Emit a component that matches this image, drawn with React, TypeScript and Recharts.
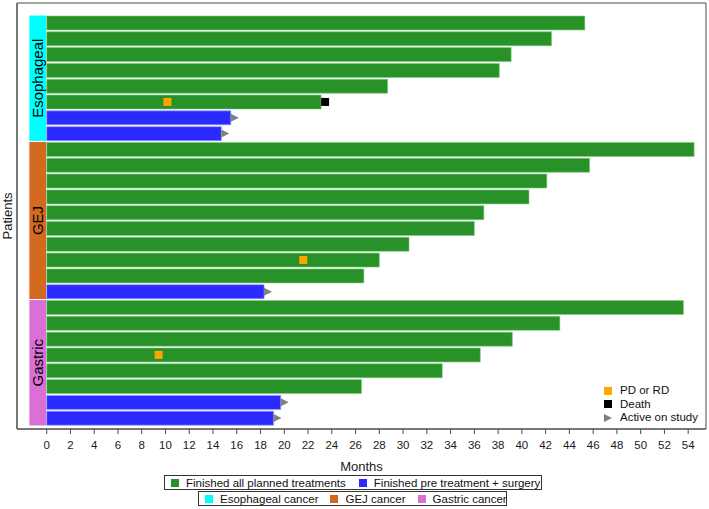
import {
  ComposedChart, Bar, Cell, Scatter, XAxis, YAxis, ReferenceArea, CartesianGrid,
} from 'recharts';

const FONT = '"Liberation Sans", Arial, sans-serif';
const GREEN = '#289228';
const BLUE = '#2b2bff';
const FRAME = '#4a4a4a';

// patients top to bottom
const patients = [
  'E1', 'E2', 'E3', 'E4', 'E5', 'E6', 'E7', 'E8',
  'J1', 'J2', 'J3', 'J4', 'J5', 'J6', 'J7', 'J8', 'J9', 'J10',
  'G1', 'G2', 'G3', 'G4', 'G5', 'G6', 'G7', 'G8',
];
const months = [
  45.3, 42.5, 39.1, 38.1, 28.7, 23.1, 15.5, 14.7,
  54.5, 45.7, 42.1, 40.6, 36.8, 36.0, 30.5, 28.0, 26.7, 18.3,
  53.6, 43.2, 39.2, 36.5, 33.3, 26.5, 19.7, 19.1,
];
// 'all' = finished all planned treatments, 'pre' = finished pre treatment + surgery
const status = [
  'all', 'all', 'all', 'all', 'all', 'all', 'pre', 'pre',
  'all', 'all', 'all', 'all', 'all', 'all', 'all', 'all', 'all', 'pre',
  'all', 'all', 'all', 'all', 'all', 'all', 'pre', 'pre',
];

const pdPatients = ['E6', 'J8', 'G4'];
const pdMonths = [10.16, 21.6, 9.42];
const deathPatients = ['E6'];
const deathMonths = [23.1];
const activePatients = ['E7', 'E8', 'J10', 'G7', 'G8'];
const activeMonths = [15.5, 14.7, 18.3, 19.7, 19.1];

const groupNames = ['Esophageal', 'GEJ', 'Gastric'];
const groupFirst = ['E1', 'J1', 'G1'];
const groupLast = ['E8', 'J10', 'G8'];
const groupColors = ['#00ffff', '#d2691e', '#da70d6'];

const xTicks = [0, 2, 4, 6, 8, 10, 12, 14, 16, 18, 20, 22, 24, 26, 28, 30, 32, 34, 36, 38, 40, 42, 44, 46, 48, 50, 52, 54];

const data = patients.map((id, i) => ({ id, months: months[i], status: status[i] }));
const pdData = pdPatients.map((id, i) => ({ id, month: pdMonths[i] }));
const deathData = deathPatients.map((id, i) => ({ id, month: deathMonths[i] }));
const activeData = activePatients.map((id, i) => ({ id, month: activeMonths[i] }));

// eslint-disable-next-line @typescript-eslint/no-explicit-any
const PdShape = ({ cx, cy }: any) => <rect x={cx - 4} y={cy - 4} width={8} height={8} fill="#ffa500" />;
// eslint-disable-next-line @typescript-eslint/no-explicit-any
const DeathShape = ({ cx, cy }: any) => <rect x={cx} y={cy - 4} width={8} height={8} fill="#000" />;
// eslint-disable-next-line @typescript-eslint/no-explicit-any
const ActiveShape = ({ cx, cy }: any) => (
  <polygon points={`${cx},${cy - 4} ${cx + 8},${cy} ${cx},${cy + 4}`} fill="#808080" />
);

// frame lines along the edges of the plot area
// eslint-disable-next-line @typescript-eslint/no-explicit-any
const frameRows = ({ offset }: any) => [offset.top, offset.top + offset.height];
// eslint-disable-next-line @typescript-eslint/no-explicit-any
const frameCols = ({ offset }: any) => [offset.left, offset.left + offset.width];

function Swatch({ color, tri }: { color: string; tri?: boolean }) {
  if (tri) {
    return (
      <svg width={8} height={8} style={{ display: 'block' }}>
        <polygon points="0,0 8,4 0,8" fill={color} />
      </svg>
    );
  }
  return <span style={{ display: 'block', width: 8, height: 8, background: color }} />;
}

function LegendItem({ color, label, gap = 0 }: { color: string; label: string; gap?: number }) {
  return (
    <span style={{ display: 'flex', alignItems: 'center', marginLeft: gap, whiteSpace: 'nowrap' }}>
      <Swatch color={color} />
      <span style={{ marginLeft: 7 }}>{label}</span>
    </span>
  );
}

const boxStyle: React.CSSProperties = {
  position: 'absolute',
  border: '1px solid #333',
  display: 'flex',
  alignItems: 'center',
  boxSizing: 'border-box',
  paddingLeft: 6,
  fontSize: 11.5,
  color: '#111',
  background: '#fff',
  whiteSpace: 'nowrap',
};

export default function App() {
  return (
    <div style={{ position: 'relative', width: 709, height: 509, fontFamily: FONT, background: '#fff' }}>
      <style>{'body{margin:0}'}</style>
      <ComposedChart
        width={709}
        height={509}
        data={data}
        layout="vertical"
        margin={{ top: 3, right: 3, left: 0, bottom: 35 }}
        barCategoryGap={1}
        style={{ fontFamily: FONT }}
      >
        <CartesianGrid
          stroke={FRAME}
          strokeWidth={1}
          horizontalCoordinatesGenerator={frameRows}
          verticalCoordinatesGenerator={frameCols}
        />
        <XAxis
          type="number"
          domain={[-2.5, 55.5]}
          ticks={xTicks}
          interval={0}
          allowDataOverflow
          height={45}
          tickSize={5}
          tickMargin={7}
          stroke={FRAME}
          tick={{ fill: '#1a1a1a', fontSize: 11.5 }}
          label={{ value: 'Months', position: 'insideBottom', offset: 3, fill: '#1a1a1a', fontSize: 13 }}
        />
        <YAxis
          type="category"
          dataKey="id"
          allowDuplicatedCategory={false}
          width={17}
          tick={false}
          tickLine={false}
          stroke={FRAME}
          padding={{ top: 12, bottom: 3 }}
          label={{ value: 'Patients', angle: -90, position: 'center', dx: -1, fill: '#1a1a1a', fontSize: 13 }}
        />
        {groupNames.map((g, i) => (
          <ReferenceArea
            key={g}
            x1={-1.5}
            x2={0}
            y1={groupFirst[i]}
            y2={groupLast[i]}
            ifOverflow="visible"
            fill={groupColors[i]}
            fillOpacity={1}
            stroke="#fff"
            strokeWidth={1}
            label={{ value: g, angle: -90, position: 'center', fill: '#000', fontSize: 15 }}
          />
        ))}
        <Bar dataKey="months" isAnimationActive={false} strokeWidth={0.6}>
          {data.map(d => (
            <Cell
              key={d.id}
              fill={d.status === 'all' ? GREEN : BLUE}
              stroke={d.status === 'all' ? '#7fcc7f' : '#9a9aff'}
            />
          ))}
        </Bar>
        <Scatter data={pdData} dataKey="month" shape={PdShape} isAnimationActive={false} />
        <Scatter data={deathData} dataKey="month" shape={DeathShape} isAnimationActive={false} />
        <Scatter data={activeData} dataKey="month" shape={ActiveShape} isAnimationActive={false} />
      </ComposedChart>

      {/* marker legend inside the plot */}
      <div style={{ position: 'absolute', left: 604, top: 384, fontSize: 11.5, color: '#111', lineHeight: '13.5px', whiteSpace: 'nowrap' }}>
        <div style={{ display: 'flex', alignItems: 'center' }}><Swatch color="#ffa500" /><span style={{ marginLeft: 8 }}>PD or RD</span></div>
        <div style={{ display: 'flex', alignItems: 'center' }}><Swatch color="#000" /><span style={{ marginLeft: 8 }}>Death</span></div>
        <div style={{ display: 'flex', alignItems: 'center' }}><Swatch color="#808080" tri /><span style={{ marginLeft: 8 }}>Active on study</span></div>
      </div>

      {/* treatment legend */}
      <div style={{ ...boxStyle, left: 164, top: 475, width: 378, height: 15 }}>
        <LegendItem color={GREEN} label="Finished all planned treatments" />
        <LegendItem color={BLUE} label="Finished pre treatment + surgery" gap={13} />
      </div>
      {/* cancer type legend */}
      <div style={{ ...boxStyle, left: 198, top: 491, width: 309, height: 15 }}>
        <LegendItem color={groupColors[0]} label="Esophageal cancer" />
        <LegendItem color={groupColors[1]} label="GEJ cancer" gap={12} />
        <LegendItem color={groupColors[2]} label="Gastric cancer" gap={12} />
      </div>
    </div>
  );
}
